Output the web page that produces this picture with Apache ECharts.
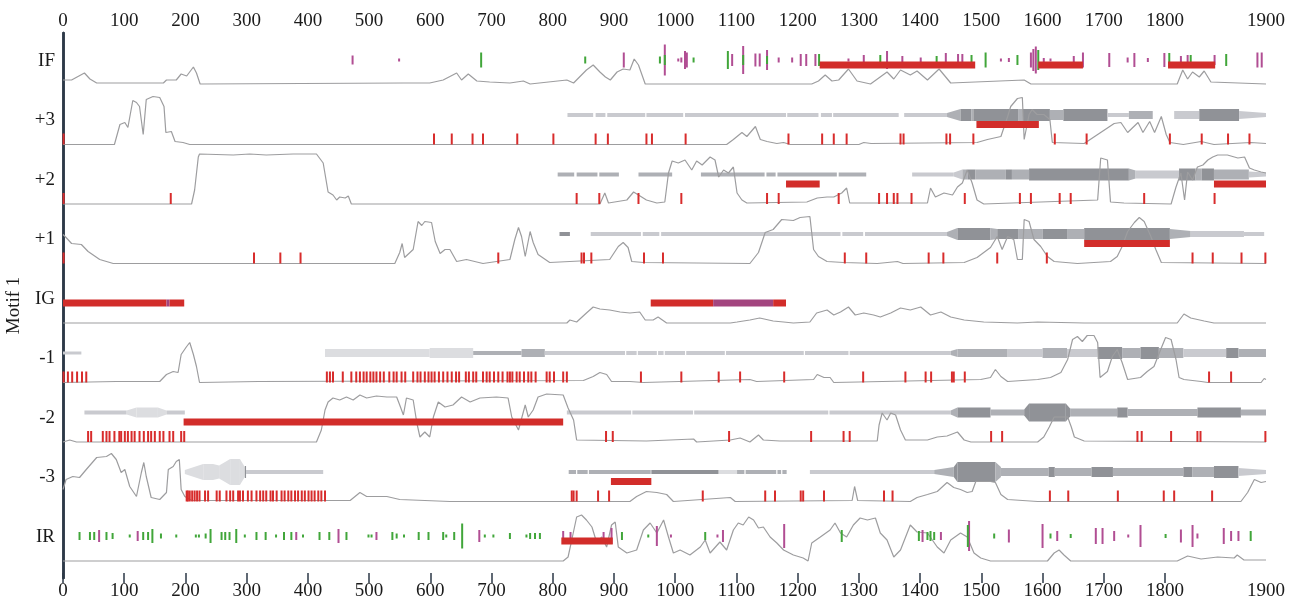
<!DOCTYPE html>
<html>
<head>
<meta charset="utf-8">
<title>Motif 1</title>
<script src="https://cdn.jsdelivr.net/npm/echarts@6/dist/echarts.min.js"></script>
<style>
  html, body { margin: 0; padding: 0; background: #fff; }
  #main { width: 1300px; height: 604px; }
</style>
</head>
<body>
<div id="main"></div>
<script>
// tracks, top to bottom
const trackNames = ['IF', '+3', '+2', '+1', 'IG', '-1', '-2', '-3', 'IR'];
const seqEnd = 1965;
const axisTickValues = [0, 100, 200, 300, 400, 500, 600, 700, 800, 900, 1000, 1100, 1200, 1300, 1400, 1500, 1600, 1700, 1800];
const endLabel = '1900';

// profile curves [position, score]
const profIF = [[0,5],[14,5],[35,12],[44,6],[55,2],[164,2],[169,5],[185,5],[193,11],[202,9],[213,18],[218,12],[224,1],[556,2],[599,2],[621,5],[643,12],[651,5],[662,11],[676,4],[697,3],[730,2],[752,4],[763,1],[823,5],[834,2],[855,15],[866,20],[877,13],[886,8],[894,5],[905,13],[915,16],[926,15],[933,26],[940,20],[951,1],[1223,1],[1234,4],[1245,10],[1256,4],[1267,5],[1283,16],[1297,4],[1319,1],[1346,13],[1357,6],[1368,15],[1384,10],[1395,14],[1412,5],[1431,16],[1450,2],[1570,5],[1581,1],[1820,1],[1829,15],[1837,6],[1845,13],[1856,8],[1864,14],[1875,3],[1965,1]];
const profP3 = [[0,0],[84,0],[93,20],[101,22],[106,17],[114,44],[120,42],[125,38],[131,10],[136,45],[147,48],[158,47],[165,38],[168,12],[177,13],[183,3],[196,2],[207,0],[1084,0],[1095,5],[1109,12],[1117,8],[1131,18],[1139,5],[1150,3],[1166,1],[1177,2],[1188,0],[1300,0],[1308,2],[1320,1],[1493,2],[1510,5],[1532,8],[1543,28],[1548,38],[1559,46],[1567,47],[1569,47],[1570,5],[1578,30],[1583,35],[1591,30],[1602,30],[1612,25],[1616,2],[1668,1],[1717,21],[1728,22],[1739,12],[1756,22],[1764,12],[1775,23],[1783,12],[1794,28],[1802,10],[1808,2],[1830,0],[1859,3],[1880,0],[1940,2],[1965,1]];
const profP2 = [[0,0],[210,0],[215,14],[221,47],[223,50],[278,49],[305,50],[332,49],[376,50],[414,50],[425,41],[433,12],[441,9],[447,4],[452,7],[461,6],[466,8],[471,0],[877,0],[885,11],[891,1],[921,4],[932,12],[940,9],[953,4],[970,1],[983,2],[989,31],[995,43],[1005,41],[1016,44],[1027,34],[1035,43],[1044,39],[1057,47],[1065,44],[1071,27],[1079,34],[1087,31],[1095,37],[1101,11],[1109,4],[1117,1],[1215,2],[1232,6],[1248,7],[1259,7],[1272,11],[1280,16],[1285,1],[1412,1],[1417,16],[1425,7],[1439,11],[1453,9],[1461,17],[1469,21],[1477,34],[1485,21],[1493,4],[1504,0],[1690,4],[1695,46],[1706,44],[1711,2],[1733,1],[1810,0],[1818,17],[1826,31],[1832,4],[1837,32],[1845,24],[1853,37],[1862,39],[1870,44],[1878,47],[1886,49],[1902,49],[1919,46],[1930,47],[1938,36],[1946,34],[1957,32],[1965,31]];
const profP1 = [[0,29],[5,26],[14,20],[30,19],[41,12],[60,4],[82,0],[542,0],[550,11],[554,20],[558,6],[572,14],[580,42],[586,38],[591,42],[602,41],[608,22],[616,10],[624,14],[632,14],[643,2],[659,4],[686,0],[730,4],[738,24],[744,36],[749,27],[755,7],[763,32],[768,21],[776,9],[795,1],[893,4],[907,17],[915,21],[923,16],[929,2],[948,1],[1122,0],[1136,11],[1147,31],[1160,34],[1174,44],[1193,43],[1204,46],[1220,47],[1226,14],[1234,7],[1248,2],[1275,1],[1330,0],[1363,2],[1372,0],[1472,1],[1493,6],[1504,11],[1515,16],[1526,27],[1534,14],[1543,27],[1553,24],[1559,4],[1567,4],[1570,44],[1578,42],[1586,24],[1597,17],[1608,7],[1619,2],[1657,0],[1711,2],[1722,7],[1730,17],[1739,32],[1750,41],[1758,46],[1766,42],[1777,27],[1785,14],[1794,1],[1965,0]];
const profIG = [[0,0],[823,0],[828,3],[839,1],[855,10],[866,16],[877,14],[893,13],[910,11],[926,10],[942,11],[951,3],[964,3],[972,6],[986,0],[1090,0],[1101,1],[1122,3],[1138,5],[1160,2],[1177,1],[1193,0],[1220,1],[1231,10],[1248,13],[1259,8],[1270,11],[1283,16],[1294,8],[1308,10],[1324,8],[1335,6],[1352,10],[1368,15],[1384,13],[1401,16],[1417,8],[1434,11],[1450,6],[1472,3],[1504,1],[1559,0],[1592,1],[1668,0],[1820,0],[1831,9],[1842,5],[1864,2],[1880,0],[1965,0]];
const profM1 = [[0,0],[87,1],[114,1],[158,1],[169,8],[180,11],[188,10],[193,28],[202,36],[207,40],[213,28],[218,16],[223,0],[319,1],[850,2],[866,6],[877,10],[888,8],[896,1],[926,1],[948,0],[1122,3],[1133,1],[1226,3],[1232,8],[1243,5],[1253,5],[1259,0],[1499,3],[1515,5],[1523,13],[1532,6],[1543,1],[1592,3],[1613,5],[1630,10],[1641,23],[1649,43],[1657,46],[1665,41],[1673,47],[1684,47],[1690,40],[1694,5],[1706,11],[1714,26],[1722,33],[1730,20],[1739,3],[1760,5],[1771,11],[1782,16],[1793,33],[1801,45],[1810,43],[1818,23],[1823,5],[1831,3],[1859,1],[1870,0],[1957,0],[1962,4],[1965,3]];
const profM2 = [[0,0],[11,2],[22,0],[414,0],[422,12],[428,32],[433,40],[441,44],[452,42],[463,45],[474,42],[485,47],[496,44],[512,46],[529,45],[545,45],[550,37],[556,27],[561,44],[572,42],[578,19],[583,5],[591,10],[599,5],[605,25],[613,40],[624,35],[637,37],[651,45],[665,40],[681,44],[708,45],[727,44],[733,25],[744,12],[755,37],[760,25],[768,32],[776,45],[790,48],[817,47],[825,34],[834,22],[839,2],[953,1],[1030,3],[1035,0],[1090,2],[1106,4],[1122,0],[1136,7],[1144,2],[1171,1],[1330,1],[1333,17],[1338,29],[1346,22],[1352,29],[1360,27],[1368,12],[1376,2],[1412,2],[1428,5],[1444,6],[1461,10],[1472,2],[1483,0],[1592,0],[1602,5],[1611,15],[1619,25],[1641,25],[1647,15],[1652,5],[1668,1],[1965,0]];
const profM3 = [[0,12],[5,22],[16,25],[27,24],[38,32],[55,44],[71,45],[79,48],[87,42],[95,29],[101,32],[109,15],[120,5],[128,29],[132,39],[136,25],[144,4],[158,2],[169,9],[172,32],[180,35],[185,40],[190,42],[193,12],[199,5],[210,1],[469,1],[485,9],[496,5],[529,5],[550,2],[632,0],[926,0],[937,5],[953,10],[970,9],[986,7],[997,0],[1090,4],[1098,0],[1289,1],[1293,15],[1298,1],[1384,0],[1395,4],[1412,7],[1428,10],[1444,19],[1455,14],[1466,12],[1477,9],[1485,10],[1491,20],[1515,20],[1523,19],[1532,7],[1543,2],[1592,0],[1924,0],[1935,9],[1946,22],[1957,19],[1965,20]];
const profIR = [[0,0],[817,0],[825,4],[831,21],[839,44],[847,46],[855,41],[864,34],[872,18],[880,24],[888,14],[896,36],[902,39],[907,14],[921,8],[937,11],[948,31],[959,38],[970,28],[981,41],[989,24],[997,8],[1008,11],[1024,6],[1041,14],[1049,21],[1057,8],[1073,19],[1084,11],[1095,31],[1103,38],[1111,36],[1120,44],[1128,41],[1136,33],[1144,34],[1155,24],[1166,18],[1177,11],[1193,6],[1209,3],[1217,0],[1223,18],[1237,24],[1253,31],[1261,38],[1270,28],[1280,24],[1291,36],[1302,43],[1314,41],[1327,43],[1335,28],[1346,21],[1357,4],[1368,11],[1384,36],[1395,29],[1412,28],[1428,14],[1439,8],[1450,21],[1466,28],[1477,24],[1488,8],[1499,3],[1515,0],[1608,0],[1619,8],[1627,11],[1635,6],[1646,0],[1820,0],[1837,5],[1859,2],[1886,4],[1913,3],[1918,6],[1929,1],[1965,1]];

// red site ticks
const sitesP3 = [1,606,635,669,686,742,801,870,890,953,962,1017,1185,1240,1259,1280,1368,1373,1443,1449,1487,1620,1672,1808,1860,1903,1938];
const sitesP2 = [1,176,839,876,940,1010,1150,1169,1267,1333,1346,1357,1363,1386,1473,1563,1581,1628,1646,1766,1881];
const sitesP1 = [1,312,355,388,711,847,851,863,949,980,1277,1312,1414,1438,1526,1607,1845,1878,1925,1964];
const sitesM1 = [1,8,15,23,31,38,431,436,441,457,471,479,485,491,496,502,507,512,518,524,533,540,545,553,559,572,579,584,591,597,602,607,614,621,628,635,642,647,658,663,670,675,686,692,697,704,711,718,726,730,734,741,746,753,760,765,772,790,795,802,817,823,944,1010,1071,1106,1178,1307,1376,1409,1418,1452,1455,1473,1872,1908];
const sitesM2 = [41,46,65,71,76,84,92,95,101,106,112,117,125,132,139,144,150,158,164,174,180,193,198,887,898,1088,1222,1275,1285,1516,1534,1755,1762,1810,1853,1858,1964];
const sitesM3 = [202,204,207,211,215,219,223,232,237,251,256,267,273,278,286,289,294,302,308,316,322,327,332,339,343,349,357,362,368,373,379,384,390,395,401,406,411,417,422,428,831,834,839,874,892,1045,1147,1163,1205,1209,1243,1341,1355,1612,1642,1723,1798,1815,1877];

// long regions [start, end, kind] kind 0 = red, 1 = purple
const regionsIF = [[1236,1490,0],[1593,1666,0],[1805,1882,0]];
const regionsP3 = [[1492,1594,0]];
const regionsP2 = [[1181,1236,0],[1880,1965,0]];
const regionsP1 = [[1668,1808,0]];
const regionsIG = [[0,169,0],[169,174,1],[174,198,0],[960,1062,0],[1062,1160,1],[1160,1181,0]];
const regionsM2 = [[197,817,0]];
const regionsM3 = [[895,961,0]];
const regionsIR = [[814,898,0]];

// coverage bands [start, end, depthStart, depthEnd, level]
const bandsP3 = [[824,866,4,4,1],[870,886,4,4,1],[889,951,4,4,1],[953,1013,4,4,1],[1016,1181,4,4,1],[1183,1234,4,4,1],[1238,1256,4,4,1],[1258,1365,4,4,1],[1374,1444,4,4,1],[1444,1466,4,12,2],[1466,1484,12,12,3],[1484,1487,12,12,2],[1487,1560,12,12,3],[1560,1568,12,12,2],[1568,1612,12,12,3],[1612,1634,10,10,2],[1634,1706,12,12,3],[1706,1741,4,4,1],[1741,1780,8,8,2],[1815,1856,8,8,1],[1856,1921,12,12,3],[1921,1965,8,4,1]];
const bandsP2 = [[808,835,4,4,2],[839,873,4,4,2],[876,908,4,4,2],[940,995,4,4,2],[1042,1146,4,4,2],[1149,1164,4,4,2],[1167,1264,4,4,2],[1267,1312,4,4,2],[1387,1455,4,4,1],[1455,1469,4,10,1],[1469,1478,10,10,2],[1478,1490,10,10,3],[1490,1540,10,10,2],[1540,1550,10,10,3],[1550,1578,10,10,2],[1578,1741,12,12,3],[1741,1752,12,8,2],[1752,1823,8,8,1],[1823,1850,12,12,3],[1850,1860,12,12,2],[1860,1880,12,12,3],[1880,1937,10,10,2],[1937,1965,6,4,1]];
const bandsP1 = [[811,828,4,4,3],[862,944,4,4,1],[947,974,4,4,1],[977,1270,4,4,1],[1273,1307,4,4,1],[1310,1444,4,4,1],[1444,1461,4,12,2],[1461,1515,12,12,3],[1515,1526,12,10,2],[1526,1560,10,10,3],[1560,1600,10,10,2],[1600,1640,10,10,3],[1640,1668,10,10,2],[1668,1808,12,12,3],[1808,1842,10,6,2],[1842,1929,6,6,1],[1929,1962,4,4,1]];
const bandsM1 = [[0,30,3,3,1],[428,599,8,8,0],[599,670,10,10,0],[670,749,4,4,2],[749,787,8,8,2],[787,918,4,4,1],[920,937,4,4,1],[939,970,4,4,1],[972,981,4,4,1],[983,1016,4,4,1],[1018,1081,4,4,1],[1083,1210,4,4,1],[1212,1283,4,4,1],[1285,1450,4,4,1],[1450,1461,4,8,2],[1461,1543,8,8,2],[1543,1600,8,8,1],[1600,1640,10,10,2],[1640,1690,8,8,1],[1690,1730,12,12,3],[1730,1760,10,10,2],[1760,1790,12,12,3],[1790,1830,10,10,2],[1830,1900,8,8,1],[1900,1920,10,10,3],[1920,1965,8,8,2]];
const bandsM2 = [[35,104,4,4,1],[104,120,4,10,0],[120,155,10,10,0],[155,169,10,4,0],[169,199,4,4,1],[823,928,4,4,1],[930,1029,4,4,1],[1031,1250,4,4,1],[1252,1450,4,4,1],[1450,1461,4,10,2],[1461,1515,10,10,3],[1515,1570,6,6,2],[1570,1578,6,18,3],[1578,1638,18,18,3],[1638,1645,18,8,3],[1645,1722,8,8,2],[1722,1739,10,10,3],[1739,1853,7,7,2],[1853,1924,10,10,3],[1924,1965,6,6,2]];
const bandsM3 = [[199,229,4,16,0],[229,245,16,16,0],[245,255,16,13,0],[255,273,13,26,0],[273,289,26,26,0],[289,297,26,10,0],[297,299,12,12,3],[299,425,4,4,1],[826,838,4,4,2],[840,857,4,4,2],[859,960,4,4,2],[961,1071,4,4,3],[1071,1101,4,4,0],[1101,1113,4,4,2],[1115,1165,4,4,2],[1167,1173,4,4,2],[1175,1182,4,4,2],[1220,1423,4,4,1],[1423,1455,4,10,2],[1455,1461,10,20,3],[1461,1523,20,20,3],[1523,1532,20,10,2],[1532,1610,8,8,2],[1610,1620,10,10,3],[1620,1680,8,8,2],[1680,1715,10,10,3],[1715,1830,8,8,2],[1830,1845,10,10,3],[1845,1880,10,10,2],[1880,1920,12,12,3],[1920,1965,8,4,1]];

// short marks on IF / IR [position, length, kind] kind 0 = green, 1 = purple
const marksIF = [[473,9,1],[549,3,1],[683,15,0],[853,7,0],[916,15,1],[975,7,0],[983,31,1],[983,10,0],[1005,3,1],[1010,5,1],[1016,18,1],[1019,15,1],[1030,5,0],[1086,18,0],[1093,12,1],[1111,28,1],[1111,10,0],[1131,13,1],[1138,13,1],[1150,20,1],[1150,8,0],[1169,5,1],[1191,5,1],[1205,12,1],[1214,12,1],[1229,12,1],[1235,12,0],[1283,3,1],[1308,10,1],[1335,10,0],[1346,18,1],[1371,8,1],[1401,5,1],[1427,8,0],[1442,14,1],[1462,12,1],[1469,12,1],[1484,10,0],[1507,15,0],[1532,3,1],[1545,4,1],[1559,10,0],[1581,15,1],[1585,22,1],[1589,27,1],[1593,20,0],[1602,4,1],[1613,3,1],[1651,8,1],[1666,15,1],[1709,14,1],[1739,5,1],[1750,14,1],[1772,4,1],[1799,14,1],[1807,14,0],[1826,8,1],[1837,10,1],[1842,10,0],[1881,10,1],[1900,12,0],[1951,15,1],[1958,15,1]];
const marksIR = [[27,8,0],[44,8,0],[51,8,0],[59,12,1],[71,8,0],[81,6,0],[109,3,0],[122,10,1],[131,8,0],[139,8,0],[146,14,0],[160,5,0],[185,3,0],[217,3,0],[222,3,0],[233,5,0],[241,14,0],[259,8,0],[265,8,0],[272,8,0],[283,14,0],[297,3,0],[316,8,0],[331,8,0],[348,3,0],[361,8,0],[373,8,0],[381,8,1],[392,3,0],[419,8,0],[435,8,0],[450,14,1],[463,8,0],[499,3,0],[504,3,0],[512,8,1],[538,8,0],[545,5,0],[557,3,0],[581,8,0],[597,8,0],[621,8,0],[626,3,0],[639,8,0],[652,25,0],[680,12,1],[689,3,0],[703,3,0],[730,6,0],[757,3,0],[763,6,0],[771,6,0],[779,6,0],[817,10,1],[829,8,1],[883,8,1],[896,16,1],[913,8,0],[956,3,0],[970,20,1],[993,3,1],[1049,8,0],[1069,3,1],[1078,12,1],[1178,24,1],[1272,12,0],[1398,10,0],[1404,12,1],[1412,8,0],[1417,10,0],[1423,8,0],[1434,8,1],[1480,30,1],[1478,22,0],[1521,5,0],[1545,13,1],[1600,24,1],[1613,5,0],[1624,10,1],[1646,4,0],[1687,16,1],[1698,16,1],[1717,10,1],[1740,3,1],[1760,22,1],[1801,4,0],[1826,13,1],[1845,22,1],[1853,5,1],[1896,16,1],[1908,10,1],[1920,10,1],[1940,10,0]];

const profiles = [profIF, profP3, profP2, profP1, profIG, profM1, profM2, profM3, profIR];
const siteSets = { 1: sitesP3, 2: sitesP2, 3: sitesP1, 5: sitesM1, 6: sitesM2, 7: sitesM3 };
const regionSets = { 0: regionsIF, 1: regionsP3, 2: regionsP2, 3: regionsP1, 4: regionsIG, 6: regionsM2, 7: regionsM3, 8: regionsIR };
const bandSets = { 1: bandsP3, 2: bandsP2, 3: bandsP1, 5: bandsM1, 6: bandsM2, 7: bandsM3 };
const markSets = { 0: marksIF, 8: marksIR };

const shadeColors = ['#dcdde0', '#c9cacf', '#aeb0b5', '#909297'];
const regionColors = ['#d22d2a', '#a3457f'];
const markColors = ['#41a63a', '#b14e93'];
const axisColor = '#2c3947';
const serif = '"Liberation Serif", "DejaVu Serif", serif';

// y value units are pixels from the bottom of the grid
function base(t) { return 493 - t * 59.5; }

const bandRows = [];
Object.keys(bandSets).forEach(k => bandSets[k].forEach(b => bandRows.push({ t: +k, s: b[0], e: b[1], w0: b[2], w1: b[3], c: b[4] })));
const siteRows = [];
Object.keys(siteSets).forEach(k => siteSets[k].forEach(x => siteRows.push({ t: +k, x: x })));
const regionRows = [];
Object.keys(regionSets).forEach(k => regionSets[k].forEach(r => regionRows.push({ t: +k, s: r[0], e: r[1], c: r[2] })));
const markRows = [];
Object.keys(markSets).forEach(k => markSets[k].forEach(m => markRows.push({ t: +k, x: m[0], len: m[1], c: m[2] })));

const labelValues = trackNames.map((n, i) => base(i) + 24);

const chart = echarts.init(document.getElementById('main'));

let series = [];

series.push({
    type: 'custom',
    z: 2,
    silent: true,
    encode: { x: [0, 1] },
    data: bandRows.map(b => [b.s, b.e]),
    renderItem: function (params, api) {
        const b = bandRows[params.dataIndex];
        const cy = base(b.t) + 29.5;
        const p0 = api.coord([b.s, cy]);
        const p1 = api.coord([b.e, cy]);
        return {
            type: 'polygon',
            shape: { points: [[p0[0], p0[1] - b.w0 / 2], [p1[0], p1[1] - b.w1 / 2], [p1[0], p1[1] + b.w1 / 2], [p0[0], p0[1] + b.w0 / 2]] },
            style: { fill: shadeColors[b.c] }
        };
    }
});

profiles.forEach((p, i) => {
    series.push({
        type: 'line',
        z: 3,
        silent: true,
        symbol: 'none',
        lineStyle: { color: '#9d9d9f', width: 1.2 },
        data: p.map(d => [d[0], base(i) + d[1]])
    });
});

series.push({
    type: 'custom',
    z: 4,
    silent: true,
    encode: { x: 0 },
    data: siteRows.map(s => [s.x]),
    renderItem: function (params, api) {
        const s = siteRows[params.dataIndex];
        const a = api.coord([s.x, base(s.t)]);
        const b = api.coord([s.x, base(s.t) + 11]);
        return { type: 'rect', shape: { x: a[0] - 1, y: b[1], width: 2, height: a[1] - b[1] }, style: { fill: '#d82c2c' } };
    }
});

series.push({
    type: 'custom',
    z: 4,
    silent: true,
    encode: { x: 0 },
    data: markRows.map(m => [m.x]),
    renderItem: function (params, api) {
        const m = markRows[params.dataIndex];
        const c = api.coord([m.x, base(m.t) + 25]);
        return { type: 'rect', shape: { x: c[0] - 1, y: c[1] - m.len / 2, width: 2, height: m.len }, style: { fill: markColors[m.c] } };
    }
});

series.push({
    type: 'custom',
    z: 5,
    silent: true,
    encode: { x: [0, 1] },
    data: regionRows.map(r => [r.s, r.e]),
    renderItem: function (params, api) {
        const r = regionRows[params.dataIndex];
        const a = api.coord([r.s, base(r.t) + 20]);
        const b = api.coord([r.e, base(r.t) + 20]);
        return { type: 'rect', shape: { x: a[0], y: a[1] - 3.5, width: b[0] - a[0], height: 7 }, style: { fill: regionColors[r.c] } };
    }
});

function xAxisDef(pos) {
    return {
        type: 'value',
        position: pos,
        min: 0,
        max: seqEnd,
        splitLine: { show: false },
        axisLine: { show: false },
        axisTick: { show: true, inside: true, length: 5, customValues: axisTickValues, lineStyle: { color: axisColor, width: 1.5 } },
        axisLabel: {
            customValues: axisTickValues.concat([seqEnd]),
            formatter: v => (v === seqEnd ? endLabel : String(v)),
            fontFamily: serif,
            fontSize: 19,
            color: '#1a1a1a',
            margin: pos === 'top' ? 2 : 4
        }
    };
}

let option = {
    animation: false,
    backgroundColor: '#fff',
    grid: { left: 63, right: 34, top: 33, bottom: 26, outerBoundsMode: 'none', containLabel: false },
    xAxis: [xAxisDef('top'), xAxisDef('bottom')],
    yAxis: [
        {
            type: 'value',
            min: 0,
            max: 545,
            position: 'left',
            name: 'Motif 1',
            nameLocation: 'middle',
            nameRotate: 90,
            nameGap: 33,
            nameTextStyle: { fontFamily: serif, fontSize: 19, color: '#1a1a1a' },
            splitLine: { show: false },
            axisTick: { show: false },
            axisLine: { show: true, lineStyle: { color: axisColor, width: 2.5 } },
            axisLabel: {
                customValues: labelValues,
                formatter: v => {
                    const i = labelValues.findIndex(l => Math.abs(l - v) < 0.1);
                    return i < 0 ? '' : trackNames[i];
                },
                fontFamily: serif,
                fontSize: 19,
                color: '#1a1a1a',
                margin: 8
            }
        },
        {
            type: 'value',
            min: 0,
            max: 545,
            position: 'right',
            splitLine: { show: false },
            axisTick: { show: false },
            axisLabel: { show: false },
            axisLine: { show: true, lineStyle: { color: axisColor, width: 2.5 } }
        }
    ],
    series: series
};

chart.setOption(option);
</script>
</body>
</html>
